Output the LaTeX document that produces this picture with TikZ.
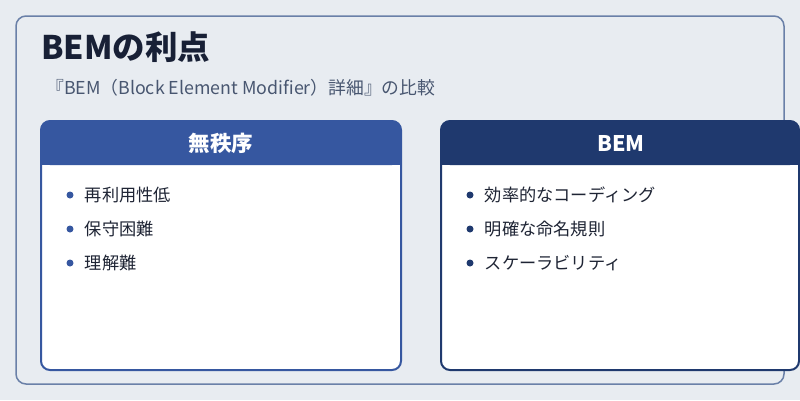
\documentclass[tikz,border=0pt]{standalone}
\usepackage{fontspec}
\setmainfont{Noto Sans CJK JP}
\usetikzlibrary{positioning,calc}
\definecolor{pagebg}{RGB}{232,236,241}
\definecolor{framecol}{RGB}{106,128,168}
\definecolor{ink}{RGB}{24,32,54}
\definecolor{subink}{RGB}{72,86,112}
\definecolor{chaos}{RGB}{54,87,160}
\definecolor{bemnavy}{RGB}{31,57,110}
\definecolor{itemink}{RGB}{30,36,52}
\tikzset{
  lcard/.style={draw=chaos, line width=2pt, rounded corners=9pt, fill=white, minimum width=360pt, minimum height=249pt, inner sep=0pt, outer sep=0pt},
  rcard/.style={draw=bemnavy, line width=2pt, rounded corners=9pt, fill=white, minimum width=358pt, minimum height=249pt, inner sep=0pt, outer sep=0pt},
  headtext/.style={text=white, font=\fontsize{21.5}{26}\selectfont\bfseries},
  item/.style={text=itemink, font=\fontsize{17.2}{20}\selectfont, anchor=west, inner sep=0pt},
  dot/.style={circle, fill=#1, minimum size=7pt, inner sep=0pt},
  dot/.default={chaos}
}

\begin{document}
\begin{tikzpicture}[x=1pt, y=-1pt]
  \useasboundingbox (0,0) rectangle (800,400);
  \fill[pagebg] (0,0) rectangle (800,400);
  \draw[framecol, line width=1.5pt, rounded corners=10pt] (16,16) rectangle (784,384);
  % title
  \node[anchor=west, inner sep=0pt, text=ink, font=\fontsize{32.5}{38}\selectfont\bfseries] (title) at (41,47) {BEMの利点};
  \node[anchor=west, inner sep=0pt, text=subink, font=\fontsize{17.8}{21}\selectfont] (subtitle) at (46,88) {『BEM（Block Element Modifier）詳細』の比較};
  % left card
  \node[lcard, anchor=north west] (lcard) at (41,121) {};
  \fill[chaos, rounded corners=9pt] (lcard.north west) rectangle ($(lcard.north east)+(0,44)$);
  \fill[chaos] ($(lcard.north west)+(0,30)$) rectangle ($(lcard.north east)+(0,44)$);
  \node[headtext] (lhead) at ($(lcard.north)+(0,22)$) {無秩序};
  \foreach \txt [count=\i] in {再利用性低,保守困難,理解難} {
    \node[dot=chaos] (ldot\i) at ($(lcard.north west)+(29,40+34*\i)$) {};
    \node[item, right=11pt of ldot\i] (litem\i) {\txt};
  }
  % right card
  \node[rcard, anchor=north west] (rcard) at (441,121) {};
  \fill[bemnavy, rounded corners=9pt] (rcard.north west) rectangle ($(rcard.north east)+(0,44)$);
  \fill[bemnavy] ($(rcard.north west)+(0,30)$) rectangle ($(rcard.north east)+(0,44)$);
  \node[headtext] (rhead) at ($(rcard.north west)+(180,22)$) {BEM};
  \foreach \txt [count=\i] in {効率的なコーディング,明確な命名規則,スケーラビリティ} {
    \node[dot=bemnavy] (rdot\i) at ($(rcard.north west)+(29,40+34*\i)$) {};
    \node[item, right=11pt of rdot\i] (ritem\i) {\txt};
  }
\end{tikzpicture}
\end{document}
